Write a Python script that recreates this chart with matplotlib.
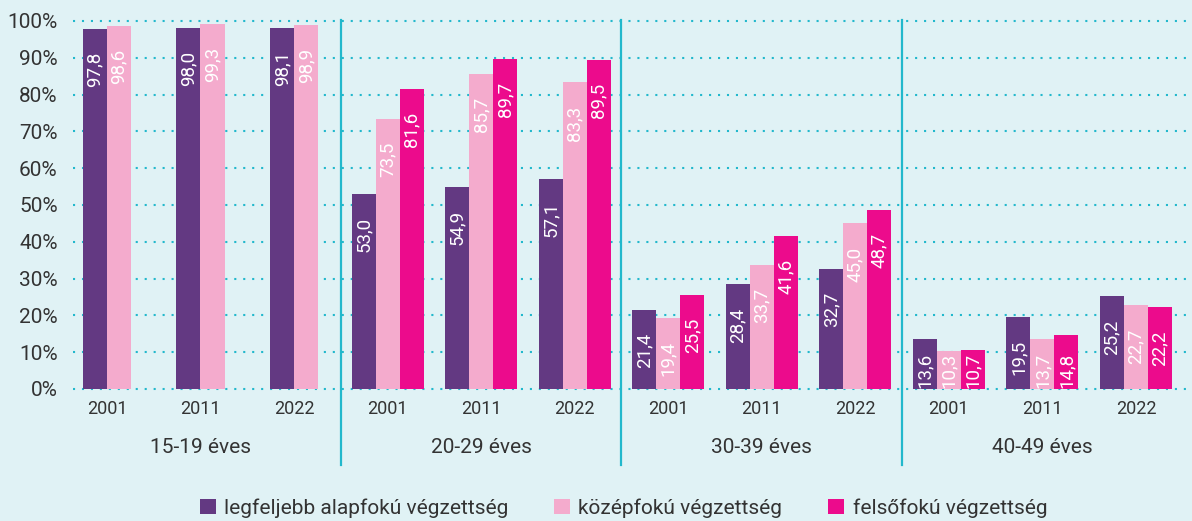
import numpy as np
import matplotlib
matplotlib.use("Agg")
import matplotlib.pyplot as plt
from matplotlib.patches import Patch

plt.rcParams['font.family'] = ['Roboto', 'DejaVu Sans']

# ---- data ----
groups = ["15-19 éves", "20-29 éves", "30-39 éves", "40-49 éves"]
years = ["2001", "2011", "2022"]
series_names = ["legfeljebb alapfokú végzettség", "középfokú végzettség", "felsőfokú végzettség"]
alapfoku = [97.8, 98.0, 98.1, 53.0, 54.9, 57.1, 21.4, 28.4, 32.7, 13.6, 19.5, 25.2]
kozepfoku = [98.6, 99.3, 98.9, 73.5, 85.7, 83.3, 19.4, 33.7, 45.0, 10.3, 13.7, 22.7]
felsofoku = [np.nan, np.nan, np.nan, 81.6, 89.7, 89.5, 25.5, 41.6, 48.7, 10.7, 14.8, 22.2]
yticks = [0, 10, 20, 30, 40, 50, 60, 70, 80, 90, 100]

colors = ["#633982", "#F4ABCD", "#EC0B8C"]
bg = "#E0F2F5"
grid_c = "#22B8CC"
text_c = "#333333"

W, H = 1192, 521
fig = plt.figure(figsize=(W / 100, H / 100), dpi=100, facecolor=bg)
ax = fig.add_axes([73 / W, 1 - 389 / H, (W - 73) / W, (389 - 21) / H])
ax.set_facecolor(bg)

series = [alapfoku, kozepfoku, felsofoku]
ncat = len(alapfoku)
x = np.arange(ncat)
bw = 0.257

# number of available series per category for centering
avail = np.array([[not np.isnan(s[i]) for s in series] for i in range(ncat)])
navail = avail.sum(axis=1)

px_per_unit = 368 / 100.0
off_units = 23 / px_per_unit
lab_len_units = 35 / px_per_unit

for si, (vals, col, name) in enumerate(zip(series, colors, series_names)):
    vals = np.array(vals, dtype=float)
    pos = x + (si - (navail - 1) / 2.0) * bw
    mask = ~np.isnan(vals)
    ax.bar(pos[mask], vals[mask], width=bw, color=col, zorder=3, linewidth=0)
    for p, v in zip(pos[mask], vals[mask]):
        top = v - off_units
        if top - lab_len_units < 0.3:
            top = lab_len_units + 0.3
        ax.text(p, top, f"{v:.1f}".replace('.', ','), rotation=90, ha='center', va='top',
                color='white', fontsize=13.5, zorder=4)

# grid
for yv in yticks:
    ax.axhline(yv, color=grid_c, linewidth=1.5, linestyle=(0, (1, 3.3)),
               dash_capstyle='butt', zorder=1, clip_on=False)

ax.set_ylim(0, 100)
ax.set_xlim(-0.363, 11.6)
ax.set_yticks(yticks)
ax.set_yticklabels([f"{t}%" for t in yticks], fontsize=15, color=text_c)
ax.set_xticks(x)
ax.set_xticklabels(years * len(groups), fontsize=13, color=text_c)
ax.tick_params(axis='y', length=0, pad=11)
ax.tick_params(axis='x', length=0, pad=8)
for s in ax.spines.values():
    s.set_visible(False)

# group labels and separators
tr = ax.get_xaxis_transform()
for gi, g in enumerate(groups):
    ax.text(gi * 3 + 1, -0.16, g, transform=tr, ha='center', va='center',
            fontsize=15, color=text_c)
for gi in range(1, len(groups)):
    ax.plot([gi * 3 - 0.5, gi * 3 - 0.5], [1.004, -0.207], transform=tr,
            color=grid_c, linewidth=1.6, clip_on=False, zorder=2)

handles = [Patch(facecolor=c, edgecolor='none') for c in colors]
fig.legend(handles, series_names, loc='center', bbox_to_anchor=(0.523, 1 - 508 / H),
           ncol=3, frameon=False, fontsize=15, handlelength=0.77, handleheight=0.77,
           handletextpad=0.4, columnspacing=2.2, labelcolor=text_c)

fig.savefig("out.png", dpi=100, facecolor=bg)
